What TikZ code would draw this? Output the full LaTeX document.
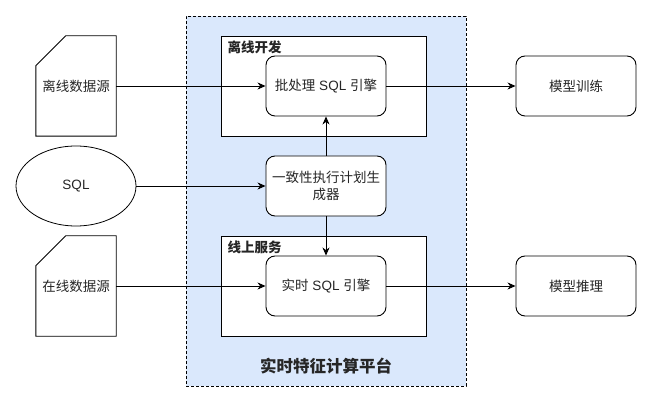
\documentclass[tikz,border=0pt]{standalone}
\usepackage{fontspec}
\setmainfont{Liberation Sans}
\newfontfamily\cjk{Noto Sans CJK SC}
\usetikzlibrary{arrows.meta,shapes.geometric}
\definecolor{platblue}{RGB}{218,232,252}
\begin{document}
\begin{tikzpicture}[x=1pt,y=-1pt,
  every node/.style={font=\fontsize{13.5}{17}\selectfont, text=black!85, inner sep=0pt},
  rbox/.style={draw, line width=0.9pt, fill=white, rounded corners=9pt, minimum width=120pt, minimum height=60pt, align=center},
  cardtxt/.style={minimum width=80pt, minimum height=100pt},
  cont/.style={draw, line width=0.9pt, fill=white, minimum width=205pt, minimum height=100pt},
  lbl/.style={anchor=west, font=\fontsize{13.5}{17}\selectfont\bfseries\cjk},
  arr/.style={line width=0.9pt, -{Stealth[length=8pt, width=7pt, inset=2.5pt]}}
]
\useasboundingbox (0,0) rectangle (653,403);
% platform
\node[draw, dash pattern=on 3pt off 2pt, line width=0.8pt, fill=platblue, minimum width=280pt, minimum height=370pt] (plat) at (326,201) {};
\node[font=\fontsize{16.5}{20}\selectfont\bfseries\cjk] (plattitle) at (326,366) {实时特征计算平台};
% containers
\node[cont] (offdev) at (323.5,86) {};
\node[lbl] (offlbl) at (227.5,47.5) {离线开发};
\node[cont] (ondev) at (323.5,286) {};
\node[lbl] (onlbl) at (227.5,247.5) {线上服务};
% engines
\node[rbox] (batch) at (326,86) {{\cjk 批处理} SQL {\cjk 引擎}};
\node[rbox] (gen) at (326,186) {\cjk 一致性执行计划生\\\cjk 成器};
\node[rbox] (rt) at (326,286) {{\cjk 实时} SQL {\cjk 引擎}};
% outputs
\node[rbox] (train) at (576,86) {\cjk 模型训练};
\node[rbox] (infer) at (576,286) {\cjk 模型推理};
% sources
\node[cardtxt] (offsrc) at (76,86) {\cjk 离线数据源};
\draw[line width=0.9pt] (offsrc.south west) -- ([yshift=-30pt]offsrc.north west) -- ([xshift=30pt]offsrc.north west) -- (offsrc.north east) -- (offsrc.south east) -- cycle;
\node[cardtxt] (onsrc) at (76,286) {\cjk 在线数据源};
\draw[line width=0.9pt] (onsrc.south west) -- ([yshift=-30pt]onsrc.north west) -- ([xshift=30pt]onsrc.north west) -- (onsrc.north east) -- (onsrc.south east) -- cycle;
\node[draw, ellipse, line width=0.8pt, minimum width=120pt, minimum height=80pt] (sql) at (76,186) {SQL};
% arrows
\draw[arr] (offsrc.east) -- (batch.west);
\draw[arr] (sql.east) -- (gen.west);
\draw[arr] (onsrc.east) -- (rt.west);
\draw[arr] (gen.north) -- (batch.south);
\draw[arr] (gen.south) -- (rt.north);
\draw[arr] (batch.east) -- (train.west);
\draw[arr] (rt.east) -- (infer.west);
\end{tikzpicture}
\end{document}
